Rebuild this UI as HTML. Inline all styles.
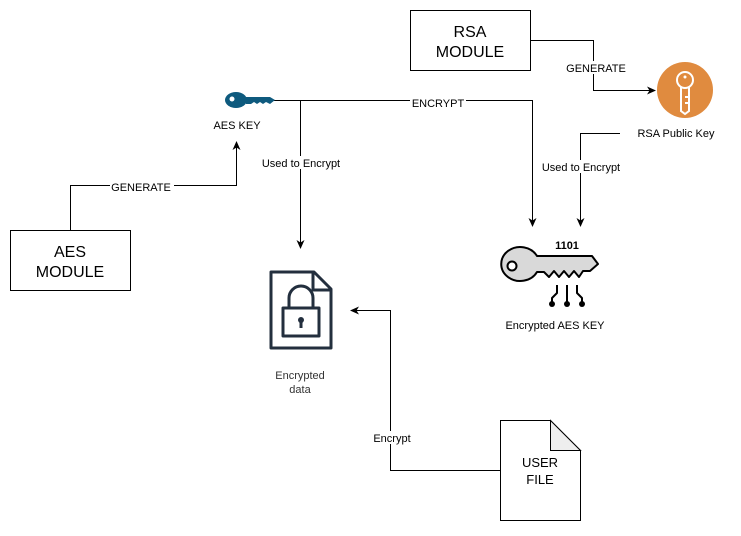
<!DOCTYPE html>
<html><head><style>
body{margin:0;background:#fff;width:741px;height:531px;overflow:hidden}
svg text{font-family:"Liberation Sans",Arial,sans-serif}
</style></head><body>
<svg width="741" height="531" xmlns="http://www.w3.org/2000/svg">
<defs><marker id="a" markerWidth="10" markerHeight="10" refX="8" refY="5" orient="auto" markerUnits="userSpaceOnUse"><path d="M0,1 L9,5 L0,9 L2.5,5z" fill="#000"/></marker></defs>
<g fill="none" stroke="#000" stroke-width="1">
<rect x="410.5" y="10.5" width="120" height="60" fill="#fff"/>
<rect x="10.5" y="230.5" width="120" height="60" fill="#fff"/>
<path d="M70.5,230 V185.5 H236.5 V142" marker-end="url(#a)"/>
<path d="M272,100.5 H532.5 V226" marker-end="url(#a)"/>
<path d="M300.5,100 V248" marker-end="url(#a)"/>
<path d="M530,40.5 H593.5 V90.5 H655" marker-end="url(#a)"/>
<path d="M620,133.5 H580.5 V226" marker-end="url(#a)"/>
<path d="M500,470.5 H390.5 V310.5 H351" marker-end="url(#a)"/>
<path d="M500.5,420.5 H550.5 L580.5,450.5 V520.5 H500.5Z" fill="#fff"/>
<path d="M550.5,420.5 V450.5 H580.5Z" fill="#eee"/>
</g>
<g font-size="11" text-anchor="middle" fill="#000">
<rect x="110" y="180" width="64" height="13" fill="#fff"/><text x="141" y="191">GENERATE</text>
<rect x="410" y="96" width="56" height="13" fill="#fff"/><text x="438" y="107">ENCRYPT</text>
<rect x="260" y="156" width="82" height="13" fill="#fff"/><text x="301" y="167">Used to Encrypt</text>
<rect x="565" y="61" width="62" height="13" fill="#fff"/><text x="596" y="72">GENERATE</text>
<rect x="540" y="160" width="82" height="13" fill="#fff"/><text x="581" y="171">Used to Encrypt</text>
<rect x="372" y="431" width="40" height="13" fill="#fff"/><text x="392" y="442">Encrypt</text>
<text x="237" y="129">AES KEY</text>
<text x="676" y="137">RSA Public Key</text>
<text x="555" y="329">Encrypted AES KEY</text>
<text x="300" y="379" fill="#333">Encrypted</text>
<text x="300" y="393" fill="#333">data</text>
</g>
<g font-size="16" text-anchor="middle">
<text x="470" y="37">RSA</text><text x="470" y="57">MODULE</text>
<text x="70" y="257">AES</text><text x="70" y="277">MODULE</text>
</g>
<text x="540" y="467" font-size="13" text-anchor="middle" font-family="Liberation Sans">USER</text>
<text x="540" y="484" font-size="13" text-anchor="middle" font-family="Liberation Sans">FILE</text>
<!-- AES key -->
<g fill="#0e5a7e"><ellipse cx="236" cy="100" rx="11" ry="8"/><path d="M244,97 H270 L275,100 L270,104 L266,102 L263,104 L260,102 L257,104 L254,102 L251,104 L246,104Z"/></g>
<circle cx="232" cy="99" r="2.5" fill="#fff"/>
<!-- RSA key -->
<circle cx="685" cy="90" r="28" fill="#e08b3f"/>
<g fill="none" stroke="#fff" stroke-width="2"><circle cx="685" cy="80" r="8"/><path d="M681,87 V111 L685,114 L689,111 V87 M689,97 H685 M689,103 H685"/></g>
<circle cx="685" cy="77" r="1.5" fill="#fff"/>
<!-- lock doc -->
<g fill="none" stroke="#232f3e" stroke-width="3" stroke-linejoin="round"><path d="M271,272 H314 L331,289 V348 H271Z"/><path d="M313,272 V290 H331"/><rect x="283" y="308" width="36" height="28"/><path d="M289,308 V298 A12,12 0 0 1 313,298 V308"/><path d="M301,322 V328"/></g>
<circle cx="301" cy="320" r="3" fill="#232f3e"/>
<!-- encrypted key -->
<g stroke="#000" stroke-width="2" stroke-linejoin="round"><path d="M537,256 A19,17 0 1 0 537,272 L544,272 L549,277 L554,271 L559,277 L564,271 L569,277 L574,271 L579,277 L583,271 L590,271 L598,264 L592,256Z" fill="#d9d9d9"/><circle cx="512" cy="266" r="4.5" fill="#fff"/><path d="M557,285 V293 L552,298 V302 M567,285 V302 M577,285 V293 L582,298 V302" fill="none"/></g>
<g fill="#000"><circle cx="552" cy="304" r="3"/><circle cx="567" cy="304" r="3"/><circle cx="582" cy="304" r="3"/></g>
<text x="567" y="249" font-size="11" font-weight="bold" text-anchor="middle" font-family="Liberation Sans">1101</text>
</svg>
</body></html>
